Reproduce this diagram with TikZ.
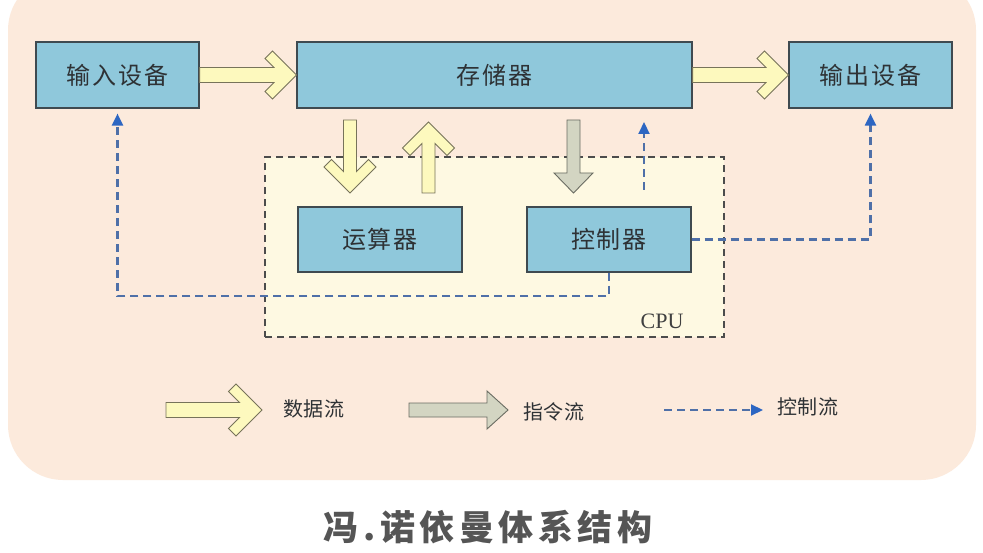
\documentclass[tikz,border=0pt]{standalone}
\usepackage{fontspec}
\setmainfont{Liberation Serif}
\newfontfamily\cjk{Noto Sans CJK SC}
\usetikzlibrary{arrows.meta,calc}
\definecolor{bg}{HTML}{FCEADC}
\definecolor{cpufill}{HTML}{FEF9E2}
\definecolor{boxfill}{HTML}{8FC8DB}
\definecolor{boxline}{HTML}{3F4A50}
\definecolor{datafill}{HTML}{FDF9BE}
\definecolor{dataline}{HTML}{77735A}
\definecolor{instfill}{HTML}{D3D5C2}
\definecolor{instline}{HTML}{6A6C62}
\definecolor{ctlline}{HTML}{4F70A8}
\definecolor{ctlhead}{HTML}{2D66C2}
\definecolor{txt}{HTML}{2E3235}
\definecolor{titlecol}{HTML}{555555}
% block arrow with flat head: style, from, to, half shaft, half head, head length
\newcommand\fatarrow[6]{%
\path[#1] let \p1=(#2), \p2=(#3), \n1={veclen(\x2-\x1,\y2-\y1)},
  \n2={(\x2-\x1)/\n1}, \n3={(\y2-\y1)/\n1} in
  ({\x1-\n3*#4},{\y1+\n2*#4}) --
  ({\x2-\n2*#6-\n3*#4},{\y2-\n3*#6+\n2*#4}) --
  ({\x2-\n2*#6-\n3*#5},{\y2-\n3*#6+\n2*#5}) --
  (\p2) --
  ({\x2-\n2*#6+\n3*#5},{\y2-\n3*#6-\n2*#5}) --
  ({\x2-\n2*#6+\n3*#4},{\y2-\n3*#6-\n2*#4}) --
  ({\x1+\n3*#4},{\y1-\n2*#4}) -- cycle;}
% block arrow with chevron head: style, from, to, half shaft, half head, barb thickness
\newcommand\chevarrow[6]{%
\path[#1] let \p1=(#2), \p2=(#3), \n1={veclen(\x2-\x1,\y2-\y1)},
  \n2={(\x2-\x1)/\n1}, \n3={(\y2-\y1)/\n1} in
  ({\x1-(#4)*\n3},{\y1+(#4)*\n2}) --
  ({\x2+(-#6-#4)*\n2-(#4)*\n3},{\y2+(-#6-#4)*\n3+(#4)*\n2}) --
  ({\x2+(-#5-#6/2)*\n2-(#5-#6/2)*\n3},{\y2+(-#5-#6/2)*\n3+(#5-#6/2)*\n2}) --
  ({\x2+(-#5)*\n2-(#5)*\n3},{\y2+(-#5)*\n3+(#5)*\n2}) --
  (\p2) --
  ({\x2+(-#5)*\n2+(#5)*\n3},{\y2+(-#5)*\n3-(#5)*\n2}) --
  ({\x2+(-#5-#6/2)*\n2+(#5-#6/2)*\n3},{\y2+(-#5-#6/2)*\n3-(#5-#6/2)*\n2}) --
  ({\x2+(-#6-#4)*\n2+(#4)*\n3},{\y2+(-#6-#4)*\n3-(#4)*\n2}) --
  ({\x1+(#4)*\n3},{\y1-(#4)*\n2}) -- cycle;}
\tikzset{
  unit/.style={draw=boxline, line width=1.2pt, fill=boxfill, text=txt,
    inner sep=0pt, font=\cjk\fontsize{24}{24}\selectfont\addfontfeature{LetterSpace=8}},
  dataarrow/.style={draw=dataline, fill=datafill, line width=0.9pt, line join=miter},
  instarrow/.style={draw=instline, fill=instfill, line width=0.9pt, line join=miter},
  ctl/.style={draw=ctlline, line width=2.1pt, dash pattern=on 8pt off 5pt,
    -{Triangle[width=11pt,length=12pt,fill=ctlhead,color=ctlhead]}},
  legendtext/.style={text=txt, font=\cjk\fontsize{20}{20}\selectfont\addfontfeature{LetterSpace=4}, anchor=west, inner sep=0pt}
}
\begin{document}
\begin{tikzpicture}[x=1pt,y=-1pt]
\useasboundingbox (0,0) rectangle (983,553);
\fill[white] (0,0) rectangle (983,553);
\fill[bg, rounded corners=55pt] (8,-25) rectangle (976,480);
% CPU region
\node[draw=black!70, fill=cpufill, dash pattern=on 7pt off 5pt, line width=1.2pt,
  minimum width=459pt, minimum height=180pt, inner sep=0pt] (cpu) at (494.5,247) {};
\node[text=black!75, font=\fontsize{22}{22}\selectfont] (cpulabel) at (662,321) {CPU};
% nodes
\node[unit, minimum width=163pt, minimum height=66pt] (in)   at (117.5,75) {输入设备};
\node[unit, minimum width=395pt, minimum height=66pt] (mem)  at (494.5,75) {存储器};
\node[unit, minimum width=163pt, minimum height=66pt] (out)  at (870.5,75) {输出设备};
\node[unit, minimum width=164pt, minimum height=65pt] (alu)  at (380,239.5) {运算器};
\node[unit, minimum width=164pt, minimum height=65pt] (ctrl) at (609,239.5) {控制器};
% free ends of the vertical arrows
\coordinate (d1a) at (350,120); \coordinate (d1b) at (350,193);
\coordinate (u1a) at (428.5,193); \coordinate (u1b) at (428.5,122);
\coordinate (g1a) at (573.5,120); \coordinate (g1b) at (573.5,193);
\coordinate (cu1) at (644,190); \coordinate (cu2) at (644,122);
\coordinate (cA) at (609,296);
% data flow
\chevarrow{dataarrow}{in.east}{mem.west}{7.5}{24}{15}
\chevarrow{dataarrow}{mem.east}{out.west}{7.5}{24}{15}
\chevarrow{dataarrow}{d1a}{d1b}{6.5}{26}{15}
\chevarrow{dataarrow}{u1a}{u1b}{6.5}{26}{15}
\fatarrow{instarrow}{g1a}{g1b}{6.5}{19.5}{20}
% control flow
\draw[ctl] (cu1) -- (cu2);
\draw[ctl, shorten >=5pt] (ctrl.south) -- (cA) -- (cA -| in.south) -- (in.south);
\draw[ctl, shorten >=5pt] (ctrl.east) -- (ctrl.east -| out.south) -- (out.south);
% legend
\coordinate (l1a) at (166,410); \coordinate (l1b) at (262,410);
\coordinate (l2a) at (409,410); \coordinate (l2b) at (508,410);
\coordinate (l3a) at (664,410); \coordinate (l3b) at (763,410);
\chevarrow{dataarrow}{l1a}{l1b}{7.5}{26}{15}
\fatarrow{instarrow}{l2a}{l2b}{7}{19}{21}
\draw[ctl] (l3a) -- (l3b);
\node[legendtext] (t1) at (283,409) {数据流};
\node[legendtext] (t2) at (523,412) {指令流};
\node[legendtext] (t3) at (777,407) {控制流};
% title
\node[text=titlecol, font=\cjk\bfseries\fontsize{35}{35}\selectfont\addfontfeature{LetterSpace=13}] (title) at (488,527) {冯.诺依曼体系结构};
\end{tikzpicture}
\end{document}
